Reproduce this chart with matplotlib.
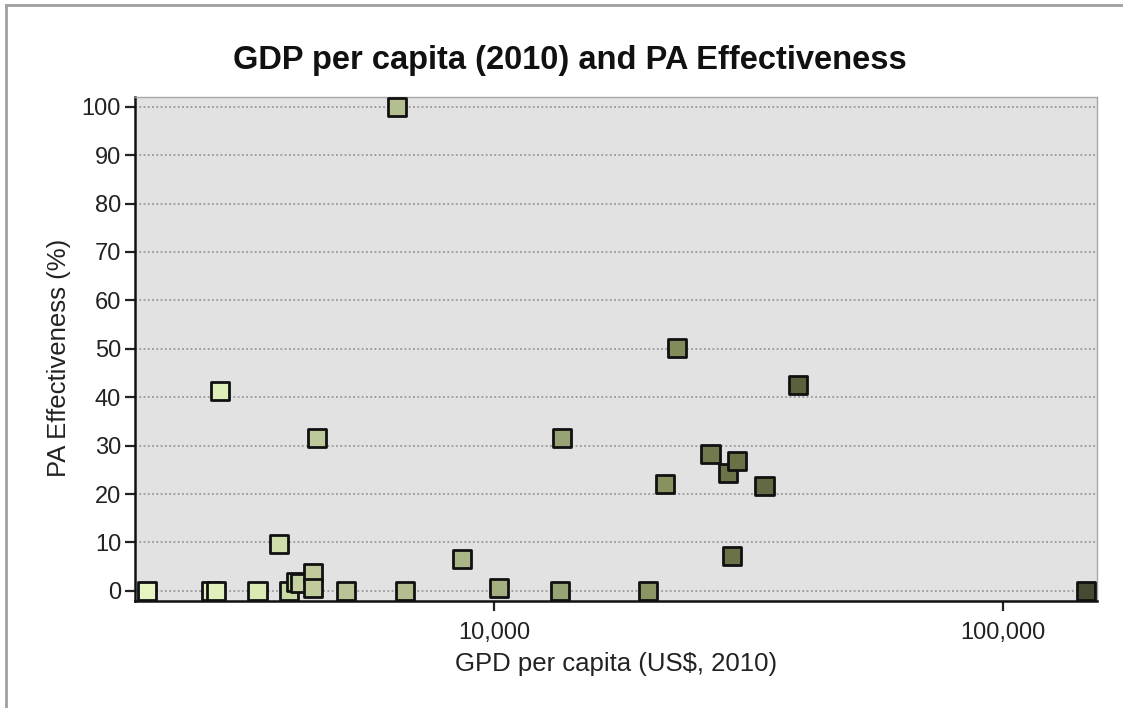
import numpy as np
import matplotlib
matplotlib.use('Agg')
import matplotlib.pyplot as plt
from matplotlib.colors import LinearSegmentedColormap, LogNorm
from matplotlib.lines import Line2D
from matplotlib.ticker import FixedLocator, NullLocator, FuncFormatter

plt.rcParams['font.family'] = ['Liberation Sans', 'DejaVu Sans']

# GDP per capita (US$, 2010) and PA effectiveness (%) per country
gdp = [2080, 2780, 2840, 2890, 3430, 3780, 3960, 4080, 4160, 4400, 4400,
       4480, 5120, 6450, 6680, 8640, 10230, 13480, 13600, 20040, 21680,
       22850, 26630, 28820, 29350, 30020, 34000, 39560, 145500]
effectiveness = [0, 0, 0, 41.2, 0, 9.7, 0, 1.8, 1.6, 3.6, 0.5,
                 31.6, 0, 100, 0, 6.6, 0.6, 0, 31.6, 0, 22.1,
                 50.2, 28.2, 24.4, 7.2, 26.9, 21.7, 42.6, 0]

title = 'GDP per capita (2010) and PA Effectiveness'
x_label = 'GPD per capita (US$, 2010)'
y_label = 'PA Effectiveness (%)'
x_ticks = [10000, 100000]
y_ticks = list(range(0, 101, 10))

fig = plt.figure(figsize=(11.23, 7.08), dpi=100)
ax = fig.add_axes([0.1202, 0.1511, 0.8566, 0.7119])
ax.set_facecolor('#e2e2e2')

# shade the squares from pale green (poor) to dark olive (rich)
cmap = LinearSegmentedColormap.from_list('olive', [
    (0.0, '#e8f6c4'), (0.12, '#dcebb6'), (0.19, '#bac697'), (0.3, '#b0bc8e'),
    (0.44, '#98a376'), (0.55, '#889360'), (0.61, '#6e7549'), (0.7, '#575e3c'),
    (1.0, '#454b33')])
ax.scatter(gdp, effectiveness, s=170, marker='s', c=gdp, cmap=cmap,
           norm=LogNorm(vmin=2000, vmax=150000), edgecolors='#111111',
           linewidths=2.0, zorder=3, clip_on=False)

ax.set_xscale('log')
ax.set_xlim(1970, 153000)
ax.set_ylim(-2.1, 102)

ax.xaxis.set_major_locator(FixedLocator(x_ticks))
ax.xaxis.set_minor_locator(NullLocator())
ax.xaxis.set_major_formatter(FuncFormatter(lambda v, p: f'{int(v):,}'))
ax.set_yticks(y_ticks)

ax.yaxis.grid(True, color='#8c8c8c', linestyle=(0, (1.2, 1.6)), linewidth=1.1)
ax.set_axisbelow(True)

ax.tick_params(axis='both', labelsize=17, colors='#222222', width=1.6, length=7,
               direction='out')
ax.tick_params(axis='x', pad=8)
ax.tick_params(axis='y', pad=3)

for side in ['top', 'right']:
    ax.spines[side].set_color('#a8a8a8')
    ax.spines[side].set_linewidth(1.0)
for side in ['left', 'bottom']:
    ax.spines[side].set_color('#111111')
    ax.spines[side].set_linewidth(1.8)

ax.set_xlabel(x_label, fontsize=18.5, color='#222222', labelpad=6)
ax.set_ylabel(y_label, fontsize=18.5, color='#222222')
ax.yaxis.set_label_coords(-0.0665, 0.482)
fig.text(570 / 1123, 1 - 60 / 708, title, ha='center', va='center',
         fontsize=23.5, fontweight='bold', color='#111111')

# thin grey frame along the top and left edges
fig.add_artist(Line2D([0.005, 0.005], [0, 0.993], transform=fig.transFigure,
                      color='#a0a0a0', linewidth=2))
fig.add_artist(Line2D([0.005, 1], [0.993, 0.993], transform=fig.transFigure,
                      color='#a0a0a0', linewidth=2))

fig.savefig('out.png', dpi=100)
